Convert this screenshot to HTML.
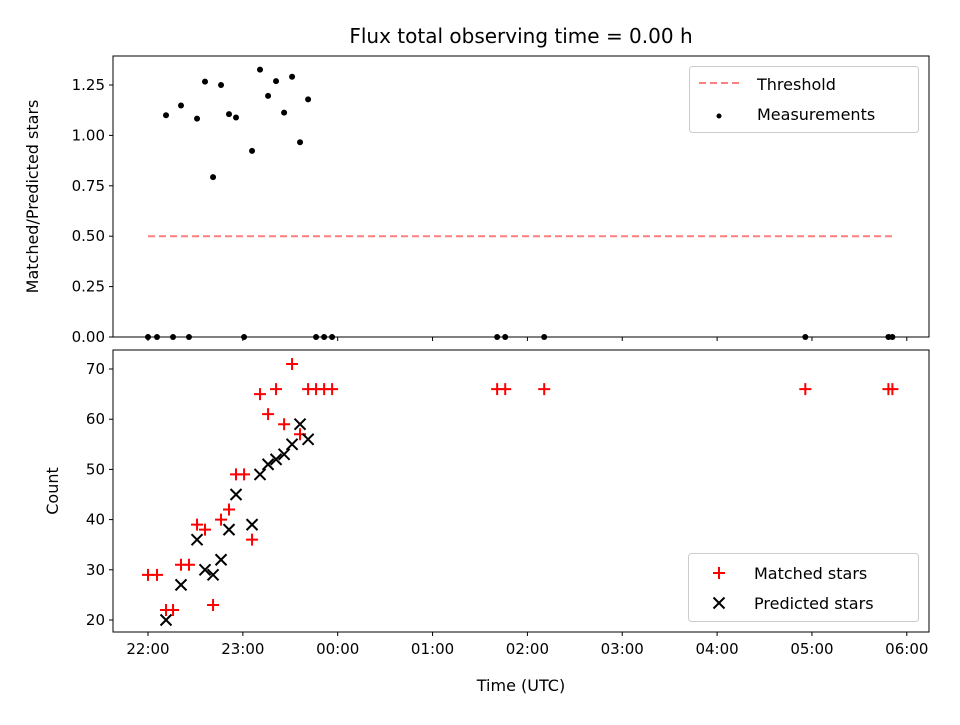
<!DOCTYPE html>
<html><head><meta charset="utf-8"><style>
body{margin:0;background:#fff}
svg text{font-family:"DejaVu Sans","Liberation Sans",sans-serif;fill:#000}
</style></head><body>
<svg id="c" width="960" height="720" viewBox="0 0 960 720" xmlns="http://www.w3.org/2000/svg">
<rect width="960" height="720" fill="#fff"/>
<text x="521" y="43" font-size="20" text-anchor="middle">Flux total observing time = 0.00 h</text>
<g id="topPanel"></g>
<g id="botPanel"></g>
</svg>
<script>
// hours after 22:00 UTC
const times = [0,0.095,0.19,0.264,0.348,0.432,0.517,0.601,0.686,0.770,0.854,0.928,1.013,1.097,1.181,1.266,1.350,1.435,1.519,1.603,1.688,1.772,1.857,1.941,3.681,3.766,4.177,6.930,7.806,7.848];
const matched = [29,29,22,22,31,31,39,38,23,40,42,49,49,36,65,61,66,59,71,57,66,66,66,66,66,66,66,66,66,66];
const predicted = [null,null,20,null,27,null,36,30,29,32,38,45,null,39,49,51,52,53,55,59,56,null,null,null,null,null,null,null,null,null];
const threshold = 0.5;
const xTickLabels = ["22:00","23:00","00:00","01:00","02:00","03:00","04:00","05:00","06:00"];
const topTicks = [0,0.25,0.5,0.75,1.0,1.25];
const botTicks = [20,30,40,50,60,70];

const NS="http://www.w3.org/2000/svg";
const L=113,R=929;
const xs=h=>148+h*94.85;
const yT=v=>337-v*201.6;
const yB=v=>620-(v-20)*5.02;
function el(tag,attrs,parent,txt){const e=document.createElementNS(NS,tag);for(const k in attrs)e.setAttribute(k,attrs[k]);if(txt!==undefined)e.textContent=txt;parent.appendChild(e);return e;}
const topG=document.getElementById('topPanel'),botG=document.getElementById('botPanel');

function frame(g,y0,y1,ticks,yf,fmt,showLabels,ylabel){
  ticks.forEach(v=>{const y=yf(v);
    const t=el('line',{x1:L-4,x2:L,y1:y,y2:y,stroke:'#000','stroke-width':1},g);
    
    
    const tx=el('text',{x:L-8,y:y+5,'font-size':15,'text-anchor':'end'},g,fmt(v));
    
    
  });
  xTickLabels.forEach((lab,i)=>{const x=xs(i);
    const t=el('line',{x1:x,x2:x,y1:y1,y2:y1+4,stroke:'#000','stroke-width':1},g);
    
    
    if(showLabels){const tx=el('text',{x:x,y:y1+22,'font-size':15,'text-anchor':'middle'},g,lab);
      
      }
  });
  const yl=el('text',{transform:`translate(${ylabel[1]},${(y0+y1)/2}) rotate(-90)`,'font-size':16,'text-anchor':'middle'},g,ylabel[0]);
  
  
}
function border(g,y0,y1){const r=el('rect',{x:L,y:y0,width:R-L,height:y1-y0,fill:'none',stroke:'#000','stroke-width':1},g);
  
  }

// top panel
frame(topG,56,337,topTicks,yT,v=>v.toFixed(2),false,['Matched/Predicted stars',38]);
const th=el('line',{x1:xs(times[0]),x2:xs(times[times.length-1]),y1:yT(threshold),y2:yT(threshold),stroke:'#ff7f7f','stroke-width':2,'stroke-dasharray':'7,4'},topG);


times.forEach((t,i)=>{const r=predicted[i]?matched[i]/predicted[i]:0;
  const c=el('circle',{cx:xs(t),cy:yT(r),r:3,fill:'#000'},topG);
  
  });
border(topG,56,337);
const lg=el('g',{},topG);


el('rect',{x:689.5,y:66.5,width:229,height:66,rx:3,fill:'#fff',stroke:'#ccc'},lg);
el('line',{x1:699,x2:740,y1:83,y2:83,stroke:'#ff7f7f','stroke-width':2,'stroke-dasharray':'7,4'},lg);
el('text',{x:757,y:90,'font-size':16},lg,'Threshold');
el('circle',{cx:719,cy:116,r:2.5,fill:'#000'},lg);
el('text',{x:757,y:120,'font-size':16},lg,'Measurements');

// bottom panel
frame(botG,350,632,botTicks,yB,v=>String(v),true,['Count',58]);
const xt=el('text',{x:521,y:691,'font-size':16,'text-anchor':'middle'},botG,'Time (UTC)');


times.forEach((t,i)=>{const x=xs(t),y=yB(matched[i]);
  const p=el('path',{d:`M${x-6},${y}H${x+6}M${x},${y-6}V${y+6}`,stroke:'#f00','stroke-width':2},botG);
  
  });
times.forEach((t,i)=>{if(predicted[i]==null)return;const x=xs(t),y=yB(predicted[i]);
  const p=el('path',{d:`M${x-5.5},${y-5.5}L${x+5.5},${y+5.5}M${x-5.5},${y+5.5}L${x+5.5},${y-5.5}`,stroke:'#000','stroke-width':2},botG);
  
  });
border(botG,350,632);
const lg2=el('g',{},botG);


el('rect',{x:688.5,y:553.5,width:230,height:68,rx:3,fill:'#fff',stroke:'#ccc'},lg2);
el('path',{d:'M713,573H725M719,567V579',stroke:'#f00','stroke-width':2},lg2);
el('text',{x:754,y:579,'font-size':16},lg2,'Matched stars');
el('path',{d:'M713.5,597.5L724.5,608.5M713.5,608.5L724.5,597.5',stroke:'#000','stroke-width':2},lg2);
el('text',{x:754,y:609,'font-size':16},lg2,'Predicted stars');
</script>
</body></html>
